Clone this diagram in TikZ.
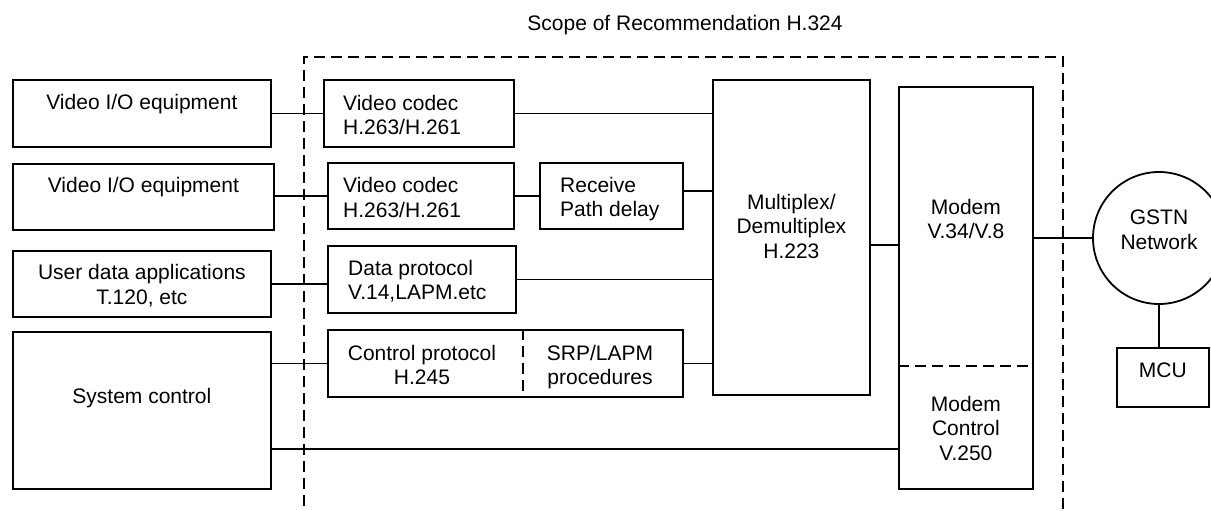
\documentclass[tikz,border=0pt]{standalone}
\usepackage{fontspec}
\setmainfont{Liberation Sans}
\begin{document}
\begin{tikzpicture}[x=1pt,y=-1pt,
  every node/.style={font=\fontsize{21}{24.5}\selectfont},
  box/.style={draw, line width=1.8pt, inner sep=0pt, anchor=north west},
  lab/.style={inner sep=0pt, align=center, anchor=north},
  labl/.style={inner sep=0pt, align=left, anchor=north west},
  conn/.style={line width=1.8pt},
  scopeline/.style={line width=1.8pt, dash pattern=on 11pt off 6pt}
]
\useasboundingbox (0,0) rectangle (1211,511);
\fill[white] (0,0) rectangle (1211,511);
\clip (0,0) rectangle (1211,511);

% title of the dashed scope frame
\node[lab] (title) at (685,15.5) {Scope of Recommendation H.324};
\draw[scopeline] (304,540) -- (304,57) -- (1063,57) -- (1063,540);

% terminal equipment on the left
\node[box, minimum width=258pt, minimum height=67pt,
  label={[lab,yshift=-15.5pt]north:Video I/O equipment}] (vio1) at (12,79) {};
\node[box, minimum width=261pt, minimum height=66pt,
  label={[lab,yshift=-14.5pt]north:Video I/O equipment}] (vio2) at (12,163) {};
\node[box, minimum width=258pt, minimum height=66pt,
  label={[lab,yshift=-14.5pt]north:User data applications\\T.120, etc}] (ud) at (12,250) {};
\node[box, minimum width=258pt, minimum height=157pt,
  label={[lab,yshift=-57pt]north:System control}] (sysc) at (12,331) {};

% codecs and protocols
\node[box, minimum width=190pt, minimum height=67pt,
  label={[labl,xshift=20pt,yshift=-16pt]north west:Video codec\\H.263/H.261}] (codec1) at (323,79) {};
\node[box, minimum width=186pt, minimum height=66pt,
  label={[labl,xshift=16pt,yshift=-15.5pt]north west:Video codec\\H.263/H.261}] (codec2) at (327,162) {};
\node[box, minimum width=143pt, minimum height=66pt,
  label={[labl,xshift=21pt,yshift=-15pt]north west:Receive\\Path delay}] (rx) at (539,162) {};
\node[box, minimum width=188pt, minimum height=67pt,
  label={[labl,xshift=21pt,yshift=-15pt]north west:Data protocol\\V.14,LAPM.etc}] (dp) at (327,245) {};
\node[box, minimum width=355pt, minimum height=67pt,
  label={[lab,xshift=95pt,yshift=-15.7pt]north west:Control protocol\\H.245},
  label={[lab,xshift=273pt,yshift=-15.7pt]north west:SRP/LAPM\\procedures}] (ctrl) at (327,329) {};
\draw[scopeline] ([xshift=196pt]ctrl.north west) -- ([xshift=196pt]ctrl.south west);

% multiplexer and modem
\node[box, minimum width=157pt, minimum height=315pt,
  label={[lab,yshift=-115pt]north:Multiplex/\\Demultiplex\\H.223}] (mux) at (712,79) {};
\node[box, minimum width=134pt, minimum height=402pt,
  label={[lab,yshift=-113pt]north:Modem\\V.34/V.8},
  label={[lab,yshift=-310pt]north:Modem\\Control\\V.250}] (modem) at (898,86) {};
\draw[scopeline] ([yshift=-280pt]modem.north west) -- ([yshift=-280pt]modem.north east);

% network side
\node[draw, circle, line width=1.8pt, inner sep=0pt, minimum size=132pt,
  label={[lab,yshift=-39pt]north:GSTN\\Network}] (gstn) at (1159,238) {};
\node[box, minimum width=92pt, minimum height=59pt,
  label={[lab,yshift=-16pt]north:MCU}] (mcu) at (1116,347) {};

% connections
\draw[conn] (vio1.east) -- (codec1.west);
\draw[conn] (codec1.east) -- (codec1.east -| mux.west);
\draw[conn] (codec2.west -| vio2.east) -- (codec2.west);
\draw[conn] (codec2.east) -- (rx.west);
\draw[conn] ([yshift=5pt]rx.east) -- ([yshift=5pt]rx.east -| mux.west);
\draw[conn] (ud.east) -- (ud.east -| dp.west);
\draw[conn] (dp.east) -- (dp.east -| mux.west);
\draw[conn] (ctrl.west -| sysc.east) -- (ctrl.west);
\draw[conn] (ctrl.east) -- (ctrl.east -| mux.west);
\draw[conn] ([yshift=-7.5pt]mux.east) -- ([yshift=-7.5pt]mux.east -| modem.west);
\draw[conn] (modem.east |- gstn.west) -- (gstn.west);
\draw[conn] (gstn.south) -- (gstn.south |- mcu.north);
\draw[conn] ([yshift=-38.5pt]sysc.east) -- ([yshift=-38.5pt]sysc.east -| modem.west);
\end{tikzpicture}
\end{document}
